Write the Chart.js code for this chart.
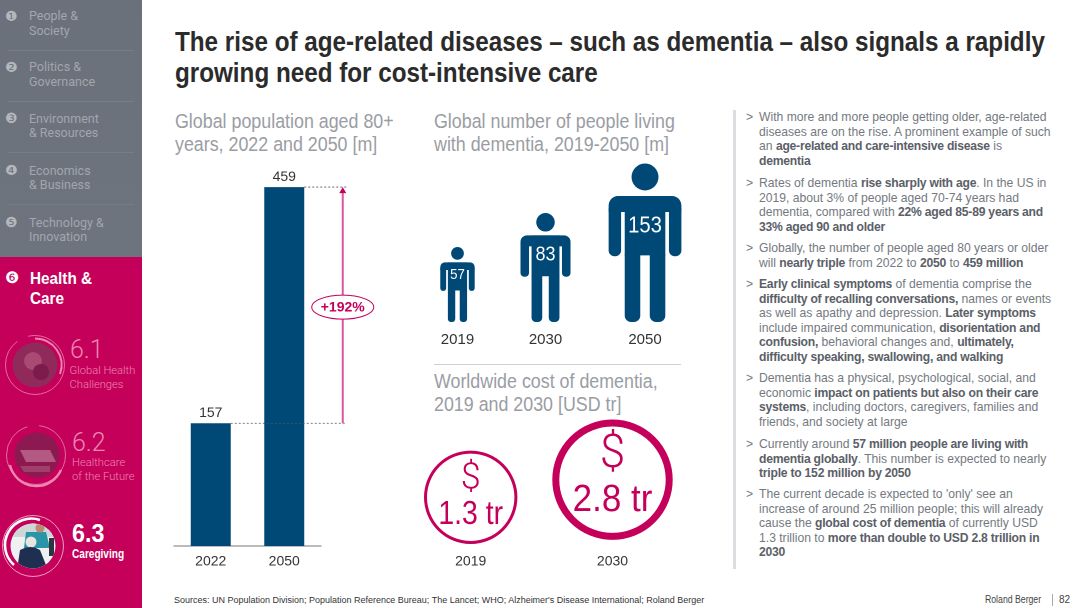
<!DOCTYPE html>
<html><head><meta charset="utf-8">
<script src="https://cdn.jsdelivr.net/npm/chart.js@4"></script>
<style>
html,body{margin:0;padding:0;background:#fff;width:1080px;height:608px;overflow:hidden}
body{position:relative;font-family:"Liberation Sans",Arial,sans-serif}
.t{position:absolute;white-space:nowrap;transform-origin:0 0}
canvas{position:absolute}
.side{position:absolute;left:0;width:142px}
.n{position:absolute;left:29px;font:400 13px/14.6px Roboto;color:#a2a6ae;white-space:nowrap;transform:scaleX(.96);transform-origin:0 0}
.c{position:absolute;left:5px;font:14px/14px "DejaVu Sans";color:#b4b8bd}
.d{position:absolute;left:8px;width:126px;height:1px;background:#767d87}
h1{position:absolute;left:174.5px;top:26px;margin:0;font:bold 27.5px/31px "Liberation Sans";color:#2b2b2b;white-space:nowrap;transform:scaleX(.881);transform-origin:0 0}
.h{position:absolute;font:20.5px/22.8px "Liberation Sans";color:#9a9da3;white-space:nowrap;transform:scaleX(.87);transform-origin:0 0}
.p{position:absolute;left:759px;font:12.15px/14.6px "Liberation Sans";color:#747981;white-space:nowrap}
.p b{color:#5b6068;letter-spacing:-.23px}
.p:before{content:">";position:absolute;left:-13px}
</style></head><body>
<div class="side" style="top:0;height:257px;background:linear-gradient(#6a717b,#6e747e)"></div>
<div class="side" style="top:257px;height:351px;background:#c4005a"></div>
<span class="c" style="top:9px">❶</span><div class="n" style="top:9px">People &amp;<br>Society</div><div class="d" style="top:50px"></div>
<span class="c" style="top:60px">❷</span><div class="n" style="top:60px">Politics &amp;<br>Governance</div><div class="d" style="top:101px"></div>
<span class="c" style="top:111px">❸</span><div class="n" style="top:111.5px">Environment<br>&amp; Resources</div><div class="d" style="top:152px"></div>
<span class="c" style="top:163px">❹</span><div class="n" style="top:163.5px">Economics<br>&amp; Business</div><div class="d" style="top:204px"></div>
<span class="c" style="top:215px">❺</span><div class="n" style="top:215.5px">Technology &amp;<br>Innovation</div>
<span class="c" style="top:270px;color:#fff;font-size:16px;line-height:16px">❻</span>
<div class="t" style="left:29.5px;top:269px;font:bold 17px/19.5px 'Liberation Sans';color:#fff;transform:scaleX(.9)">Health &amp;<br>Care</div>
<svg style="position:absolute;left:0;top:320px" width="70" height="270" viewBox="0 320 70 270" fill="none">
 <defs><clipPath id="p3"><circle cx="33" cy="546" r="22.5"/></clipPath></defs>
 <circle cx="35" cy="365" r="22.5" fill="#8f2a5a"/><circle cx="33" cy="361" r="9" fill="#a84a72"/><circle cx="41" cy="372" r="8" fill="#7c1c4c"/>
 <circle cx="35" cy="365" r="29.5" stroke="#ee86b0" stroke-width=".8" stroke-dasharray="120 12"/>
 <path d="M35 338.5A26.5 26.5 0 0 1 60 374" stroke="#ee86b0" stroke-width="2"/>
 <circle cx="37" cy="455" r="22.5" fill="#8c1a50"/><path d="M20 450h30l6 12H26z" fill="#b45a82"/><path d="M20 466h30v6H24z" fill="#a03f6c"/>
 <circle cx="36" cy="455" r="29.5" stroke="#ee86b0" stroke-width=".8" stroke-dasharray="130 12"/>
 <path d="M10 465A27 27 0 0 0 61 470" stroke="#ee86b0" stroke-width="2.4"/>
 <circle cx="33" cy="546" r="22.5" fill="#eef0f2"/>
 <g clip-path="url(#p3)"><rect x="10" y="523" width="46" height="14" fill="#cfd6d6"/><path d="M26 532h20l4 16H24z" fill="#2a94a8"/><circle cx="40" cy="528" r="4.5" fill="#b98a70"/><circle cx="31" cy="542" r="5.5" fill="#e8e4e0"/><path d="M17 570l3-20q11-6 20 0l8 20z" fill="#1f2f52"/><rect x="49" y="538" width="5" height="18" fill="#2c3540"/></g>
 <circle cx="33" cy="546" r="30.5" stroke="#f7c6dc" stroke-width=".8"/>
 <path d="M40 520A26.5 26.5 0 0 0 14 565" stroke="#fff" stroke-width="2.6"/>
</svg>
<div class="t" style="left:70px;top:336px;font:300 25px/28px Roboto;color:#ee86b0">6.1</div>
<div class="t" style="left:69.5px;top:364px;font:300 11.2px/14px Roboto;color:#ee86b0">Global Health<br>Challenges</div>
<div class="t" style="left:72px;top:429px;font:300 25px/28px Roboto;color:#ee86b0">6.2</div>
<div class="t" style="left:72px;top:456px;font:300 11.2px/14px Roboto;color:#ee86b0">Healthcare<br>of the Future</div>
<div class="t" style="left:72px;top:519px;font:bold 25px/28px 'Liberation Sans';color:#fff;transform:scaleX(.93)">6.3</div>
<div class="t" style="left:72px;top:547px;font:bold 12px/14px 'Liberation Sans';color:#fff;transform:scaleX(.84)">Caregiving</div>

<h1>The rise of age-related diseases – such as dementia – also signals a rapidly<br>growing need for cost-intensive care</h1>
<div class="h" style="left:174.5px;top:110px">Global population aged 80+<br>years, 2022 and 2050 [m]</div>
<div class="h" style="left:433.5px;top:110px">Global number of people living<br>with dementia, 2019-2050 [m]</div>
<div class="h" style="left:433.5px;top:370px">Worldwide cost of dementia,<br>2019 and 2030 [USD tr]</div>
<div style="position:absolute;left:434px;top:364px;width:247px;height:1px;background:#cfd0d3"></div>
<div style="position:absolute;left:733px;top:110px;width:3px;height:459px;background:#dcdde0"></div>

<div class="p" style="top:110px">With more and more people getting older, age-related<br>diseases are on the rise. A prominent example of such<br>an <b>age-related and care-intensive disease</b> is<br><b>dementia</b></div>
<div class="p" style="top:176px">Rates of dementia <b>rise sharply with age</b>. In the US in<br>2019, about 3% of people aged 70-74 years had<br>dementia, compared with <b>22% aged 85-89 years and<br>33% aged 90 and older</b></div>
<div class="p" style="top:241px">Globally, the number of people aged 80 years or older<br>will <b>nearly triple</b> from 2022 to <b>2050</b> to <b>459 million</b></div>
<div class="p" style="top:277px"><b>Early clinical symptoms</b> of dementia comprise the<br><b>difficulty of recalling conversations,</b> names or events<br>as well as apathy and depression. <b>Later symptoms</b><br>include impaired communication, <b>disorientation and<br>confusion,</b> behavioral changes and, <b>ultimately,<br>difficulty speaking, swallowing, and walking</b></div>
<div class="p" style="top:371px">Dementia has a physical, psychological, social, and<br>economic <b>impact on patients but also on their care<br>systems</b>, including doctors, caregivers, families and<br>friends, and society at large</div>
<div class="p" style="top:437px">Currently around <b>57 million people are living with<br>dementia globally</b>. This number is expected to nearly<br><b>triple to 152 million by 2050</b></div>
<div class="p" style="top:487px">The current decade is expected to 'only' see an<br>increase of around 25 million people; this will already<br>cause the <b>global cost of dementia</b> of currently USD<br>1.3 trillion to <b>more than double to USD 2.8 trillion in<br>2030</b></div>

<div class="t" style="left:174px;top:594px;font:9.7px/12px 'Liberation Sans';color:#333;transform:scaleX(.928)">Sources: UN Population Division; Population Reference Bureau; The Lancet; WHO; Alzheimer's Disease International; Roland Berger</div>
<div class="t" style="left:985px;top:594px;font:10px/12px 'Liberation Sans';color:#444;transform:scaleX(.87)">Roland Berger</div>
<div style="position:absolute;left:1052px;top:594px;width:1px;height:12px;background:#aaa"></div>
<div class="t" style="left:1059px;top:594px;font:10px/12px 'Liberation Sans';color:#444">82</div>

<canvas id="bars" style="left:160px;top:150px;width:230px;height:430px"></canvas>
<canvas id="people" style="left:405px;top:160px;width:295px;height:200px"></canvas>
<canvas id="cost" style="left:395px;top:410px;width:295px;height:170px"></canvas>
<script>
const popYears = ['2022','2050'];
const popValues = [157,459];
const popChange = '+192%';
const peopleYears = ['2019','2030','2050'];
const peopleValues = [57,83,153];
const costYears = ['2019','2030'];
const costValues = [1.3,2.8];

const NAVY='#004876', MAG='#c4005a', INK='#333';
const iconHeights=[75,109,158.5], iconShift=[0,-5.75,0];
const numFont=[[15,.88],[20,.9],[23,.88]], numY=[275,255,226];
const costRadius=[45.2,56.7], costBorder=[3,7], costSize=[[33,.86],[38,.92]], dollarSize=[36,46], dollarY=[-18,-24], costY=[17.5,21];
Chart.defaults.animation=false;
Chart.defaults.responsive=false;
Chart.defaults.devicePixelRatio=2;
Chart.defaults.font.family='"Liberation Sans",Arial,sans-serif';
Chart.defaults.plugins.legend.display=false;
Chart.defaults.plugins.tooltip.enabled=false;
function size(id){const c=document.getElementById(id);c.width=parseInt(c.style.width);c.height=parseInt(c.style.height);return c;}

new Chart(size('bars'),{type:'bar',
 data:{labels:popYears,datasets:[{data:popValues,backgroundColor:NAVY,categoryPercentage:1,barPercentage:.544}]},
 options:{layout:{padding:{left:14,right:69,top:0,bottom:0}},
  scales:{y:{display:false,min:0,max:506.4},
   x:{afterFit:s=>{s.height=34},border:{color:'#777',width:1},grid:{display:false},ticks:{color:INK,font:{size:14},padding:-1,maxRotation:0}}}},
 plugins:[{id:'notes',afterDatasetsDraw(ch){
  const c=ch.ctx,m=ch.getDatasetMeta(0).data,y=ch.scales.y,lo=y.getPixelForValue(popValues[0]),hi=y.getPixelForValue(popValues[1]);
  c.save();c.textAlign='center';c.fillStyle=INK;c.font='14px "Liberation Sans"';c.textBaseline='bottom';
  m.forEach((b,i)=>c.fillText(popValues[i],b.x,b.y-3));
  const ax=m[1].x+58.5;
  c.strokeStyle='#555';c.lineWidth=.8;c.setLineDash([2,2]);
  c.beginPath();c.moveTo(m[0].x+20,lo);c.lineTo(ax+4,lo);c.moveTo(m[1].x+20,hi);c.lineTo(ax+4,hi);c.stroke();
  c.setLineDash([]);c.strokeStyle='#d9589b';c.lineWidth=2;
  c.beginPath();c.moveTo(ax,lo);c.lineTo(ax,hi+5);c.stroke();
  c.fillStyle=MAG;c.beginPath();c.moveTo(ax,hi);c.lineTo(ax-3.5,hi+6);c.lineTo(ax+3.5,hi+6);c.closePath();c.fill();
  const my=(lo+hi)/2+2;
  c.fillStyle='#fff';c.strokeStyle=MAG;c.lineWidth=1;c.beginPath();c.ellipse(ax,my,31,12,0,0,7);c.fill();c.stroke();
  c.fillStyle=MAG;c.font='bold 14px "Liberation Sans"';c.textBaseline='middle';c.fillText(popChange,ax,my+.5);
  c.restore();}}]});

function person(c,cx,feet,H){
 const X=v=>cx+v*H,Y=v=>feet-v*H;
 c.fillStyle=NAVY;
 c.beginPath();c.arc(cx,Y(.915),.085*H,0,7);c.fill();
 const r=(x0,top,x1,bot,radii)=>{c.beginPath();c.roundRect(X(x0),Y(top),(x1-x0)*H,(top-bot)*H,radii.map(v=>v*H));c.fill();};
 r(-.2295,.795,.2295,.694,[.06,.06,0,0]);
 r(-.2295,.72,-.151,.415,[0,0,.036,.036]);
 r(.151,.72,.2295,.415,[0,0,.036,.036]);
 r(-.128,.795,.128,.42,[0,0,0,0]);
 r(-.128,.43,-.03,0,[0,0,.04,.04]);
 r(.03,.43,.128,0,[0,0,.04,.04]);
}
new Chart(size('people'),{type:'bar',
 data:{labels:peopleYears,datasets:[{data:peopleValues,backgroundColor:'transparent'}]},
 options:{layout:{padding:{left:5.6,right:8.1,top:0,bottom:38}},
  scales:{x:{display:false},y:{display:false,min:0,max:170}}},
 plugins:[{id:'icons',afterDatasetsDraw(ch){
  const c=ch.ctx,base=ch.scales.y.getPixelForValue(0);
  c.save();c.textAlign='center';c.textBaseline='middle';
  ch.getDatasetMeta(0).data.forEach((b,i)=>{
   const x=b.x+iconShift[i];person(c,x,base,iconHeights[i]);
   c.save();c.translate(x,numY[i]-160);c.scale(numFont[i][1],1);
   c.fillStyle='#fff';c.font=numFont[i][0]+'px "Liberation Sans"';c.fillText(peopleValues[i],0,0);c.restore();
   c.fillStyle=INK;c.font='15px "Liberation Sans"';c.fillText(peopleYears[i],x,180);
  });c.restore();}}]});

new Chart(size('cost'),{type:'bubble',
 data:{labels:costYears,datasets:[{data:costYears.map((y,i)=>({x:y,y:costValues[i],r:costRadius[i]})),
   backgroundColor:'transparent',borderColor:MAG,
   borderWidth:c=>costBorder[c.dataIndex],hoverBorderWidth:c=>costBorder[c.dataIndex],clip:false}]},
 options:{layout:{autoPadding:false,padding:{left:4.8,right:6.6,top:0,bottom:0}},
  scales:{y:{display:false,min:-2.85,max:8.74},
   x:{type:'category',offset:true,labels:costYears,afterFit:s=>{s.height=34},border:{display:false},grid:{display:false},ticks:{color:INK,font:{size:14},padding:-1,maxRotation:0}}}},
 plugins:[{id:'inner',afterDatasetsDraw(ch){
  const c=ch.ctx;c.save();c.textAlign='center';c.textBaseline='middle';c.fillStyle=MAG;
  ch.getDatasetMeta(0).data.forEach((p,i)=>{
   c.font='300 '+dollarSize[i]+'px Roboto';c.fillText('$',p.x,p.y+dollarY[i]);
   c.save();c.translate(p.x,p.y+costY[i]);c.scale(costSize[i][1],1);
   c.font=costSize[i][0]+'px "Liberation Sans"';c.fillText(costValues[i].toFixed(1)+' tr',0,0);c.restore();
  });c.restore();}}]});
</script></body></html>
